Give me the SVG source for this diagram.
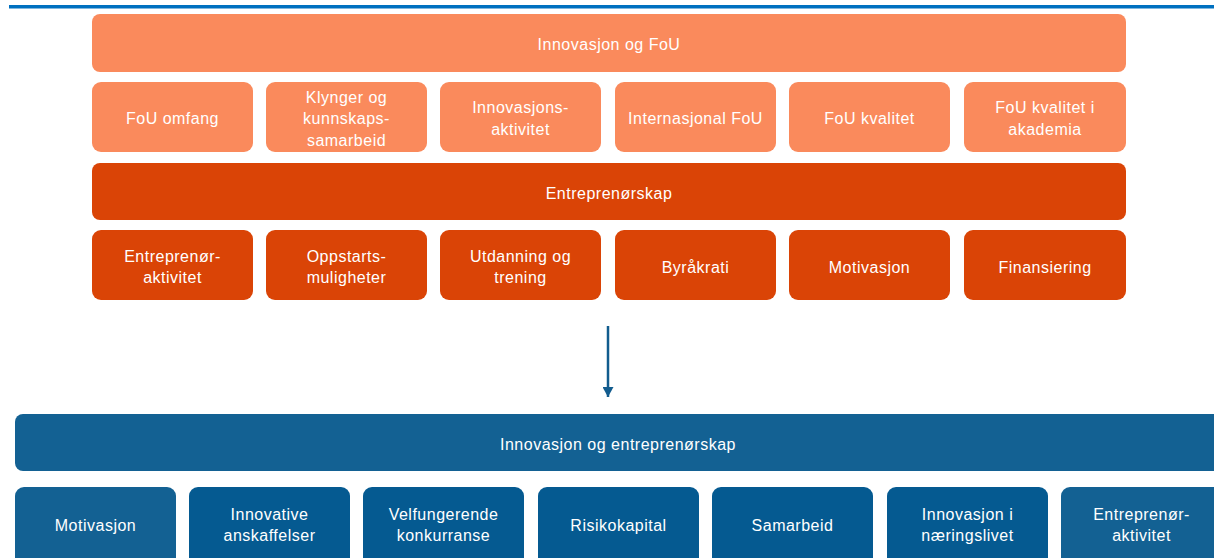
<svg xmlns="http://www.w3.org/2000/svg" width="1214" height="558" viewBox="0 0 1214 558">
<defs>
<style>
.t{font-family:"Liberation Sans","DejaVu Sans",sans-serif;font-size:16px;letter-spacing:0.5px;fill:#ffffff;text-anchor:middle;dominant-baseline:central}
.lt{fill:#FA8A5C}
.dk{fill:#DA4406}
.bl{fill:#136193}
.b2{fill:#055A91}
</style>
<marker id="ah" markerWidth="10" markerHeight="11" refX="10" refY="5.5" orient="auto" markerUnits="userSpaceOnUse" viewBox="0 0 10 11">
<path d="M0,0 L10,5.5 L0,11 Z" fill="#125C8E"/>
</marker>
</defs>
<rect x="9" y="5" width="1205" height="3.5" fill="#0070C0"/>
<g id="innovasjon-fou"><rect class="lt" x="92" y="14" width="1034" height="58" rx="8"/><text class="t" x="609" y="44">Innovasjon og FoU</text></g>
<g id="fou-omfang"><rect class="lt" x="92" y="82" width="161" height="70" rx="9"/><text class="t" x="172.5" y="118">FoU omfang</text></g>
<g id="klynger"><rect class="lt" x="266" y="82" width="161" height="70" rx="9"/><text class="t" x="346.5" y="97">Klynger og</text><text class="t" x="346.5" y="118">kunnskaps-</text><text class="t" x="346.5" y="140">samarbeid</text></g>
<g id="innovasjonsaktivitet"><rect class="lt" x="440" y="82" width="161" height="70" rx="9"/><text class="t" x="520.5" y="107">Innovasjons-</text><text class="t" x="520.5" y="129">aktivitet</text></g>
<g id="internasjonal-fou"><rect class="lt" x="615" y="82" width="161" height="70" rx="9"/><text class="t" x="695.5" y="118">Internasjonal FoU</text></g>
<g id="fou-kvalitet"><rect class="lt" x="789" y="82" width="161" height="70" rx="9"/><text class="t" x="869.5" y="118">FoU kvalitet</text></g>
<g id="fou-kvalitet-akademia"><rect class="lt" x="964" y="82" width="162" height="70" rx="9"/><text class="t" x="1045" y="107">FoU kvalitet i</text><text class="t" x="1045" y="129">akademia</text></g>
<g id="entreprenorskap"><rect class="dk" x="92" y="163" width="1034" height="57" rx="8"/><text class="t" x="609" y="193">Entreprenørskap</text></g>
<g id="entreprenoraktivitet"><rect class="dk" x="92" y="230" width="161" height="70" rx="9"/><text class="t" x="172.5" y="256">Entreprenør-</text><text class="t" x="172.5" y="277">aktivitet</text></g>
<g id="oppstart"><rect class="dk" x="266" y="230" width="161" height="70" rx="9"/><text class="t" x="346.5" y="256">Oppstarts-</text><text class="t" x="346.5" y="277">muligheter</text></g>
<g id="utdanning"><rect class="dk" x="440" y="230" width="161" height="70" rx="9"/><text class="t" x="520.5" y="256">Utdanning og</text><text class="t" x="520.5" y="277">trening</text></g>
<g id="byrakrati"><rect class="dk" x="615" y="230" width="161" height="70" rx="9"/><text class="t" x="695.5" y="267">Byråkrati</text></g>
<g id="motivasjon1"><rect class="dk" x="789" y="230" width="161" height="70" rx="9"/><text class="t" x="869.5" y="267">Motivasjon</text></g>
<g id="finansiering"><rect class="dk" x="964" y="230" width="162" height="70" rx="9"/><text class="t" x="1045" y="267">Finansiering</text></g>
<g id="connectors"><line x1="608" y1="326" x2="608" y2="397" stroke="#125C8E" stroke-width="2.5" marker-end="url(#ah)"/></g>
<g id="innovasjon-entreprenorskap"><rect class="bl" x="15" y="414" width="1214" height="57" rx="8"/><text class="t" x="618" y="444">Innovasjon og entreprenørskap</text></g>
<g id="motivasjon2"><rect class="bl" x="15" y="487" width="161" height="80" rx="9"/><text class="t" x="95.5" y="525">Motivasjon</text></g>
<g id="anskaffelser"><rect class="b2" x="189" y="487" width="161" height="80" rx="9"/><text class="t" x="269.5" y="514">Innovative</text><text class="t" x="269.5" y="535">anskaffelser</text></g>
<g id="konkurranse"><rect class="b2" x="363" y="487" width="161" height="80" rx="9"/><text class="t" x="443.5" y="514">Velfungerende</text><text class="t" x="443.5" y="535">konkurranse</text></g>
<g id="risikokapital"><rect class="b2" x="538" y="487" width="161" height="80" rx="9"/><text class="t" x="618.5" y="525">Risikokapital</text></g>
<g id="samarbeid"><rect class="b2" x="712" y="487" width="161" height="80" rx="9"/><text class="t" x="792.5" y="525">Samarbeid</text></g>
<g id="naeringslivet"><rect class="b2" x="887" y="487" width="161" height="80" rx="9"/><text class="t" x="967.5" y="514">Innovasjon i</text><text class="t" x="967.5" y="535">næringslivet</text></g>
<g id="entreprenoraktivitet2"><rect class="bl" x="1061" y="487" width="161" height="80" rx="9"/><text class="t" x="1141.5" y="514">Entreprenør-</text><text class="t" x="1141.5" y="535">aktivitet</text></g>
</svg>
